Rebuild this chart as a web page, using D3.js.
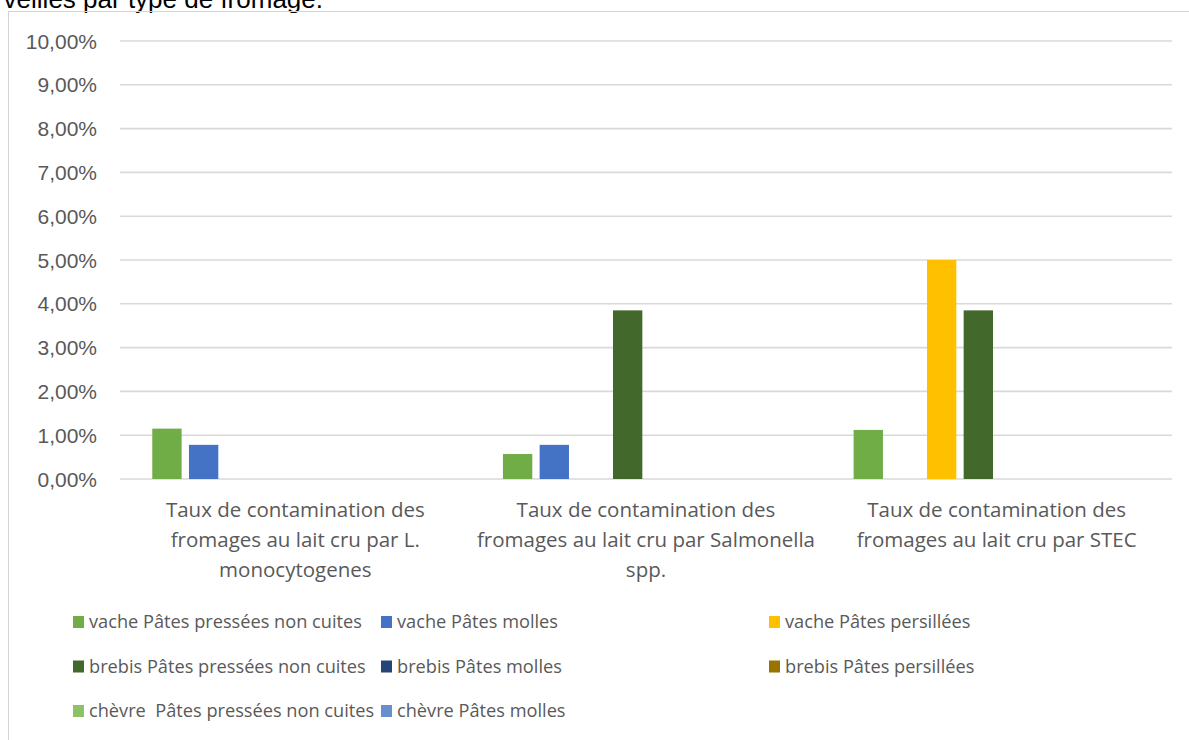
<!DOCTYPE html>
<html>
<head>
<meta charset="utf-8">
<script src="https://cdn.jsdelivr.net/npm/d3@7"></script>
<style>
  html, body { margin: 0; padding: 0; background: #fff; overflow: hidden; }
</style>
</head>
<body>
<div id="chart"></div>
<script>
const width = 1189,
  height = 740;

// categories (x axis labels, already wrapped the way the original shows them)
const categories = [
  ['Taux de contamination des', 'fromages au lait cru par L.', 'monocytogenes'],
  ['Taux de contamination des', 'fromages au lait cru par Salmonella', 'spp.'],
  ['Taux de contamination des', 'fromages au lait cru par STEC']
];

const seriesNames = [
  'vache Pâtes pressées non cuites',
  'vache Pâtes molles',
  'vache Pâtes persillées',
  'brebis Pâtes pressées non cuites',
  'brebis Pâtes molles',
  'brebis Pâtes persillées',
  'chèvre  Pâtes pressées non cuites',
  'chèvre Pâtes molles'
];

const seriesColors = ['#70ad47', '#4472c4', '#ffc000', '#43682b', '#264478', '#997300', '#8cc168', '#698ed0'];

// one value per category, per series (0 = nothing drawn)
const vachePPNC = [0.0115, 0.0057, 0.0112];
const vachePM = [0.0078, 0.0078, 0];
const vachePP = [0, 0, 0.05];
const brebisPPNC = [0, 0.0385, 0.0385];
const brebisPM = [0, 0, 0];
const brebisPP = [0, 0, 0];
const chevrePPNC = [0, 0, 0];
const chevrePM = [0, 0, 0];

const yTicks = [0, 0.01, 0.02, 0.03, 0.04, 0.05, 0.06, 0.07, 0.08, 0.09, 0.10];

const values = [vachePPNC, vachePM, vachePP, brebisPPNC, brebisPM, brebisPP, chevrePPNC, chevrePM];

const svg = d3.select('#chart').append('svg')
  .attr('width', width)
  .attr('height', height);

// title (cut off at the top of the page, as in the original)
svg.append('text')
  .attr('x', 323)
  .attr('y', 8)
  .attr('text-anchor', 'end')
  .style('font-family', '"Liberation Sans", Arial, sans-serif')
  .style('font-size', '26px')
  .style('fill', '#000')
  .text('veilles par type de fromage.');

// chart frame
svg.append('rect')
  .attr('x', 8.5)
  .attr('y', 11.5)
  .attr('width', 1400)
  .attr('height', 900)
  .attr('fill', 'none')
  .attr('stroke', '#d4d4d4')
  .attr('stroke-width', 1);

const plot = { left: 120, right: 1172, top: 41, bottom: 479 };

const locale = d3.formatLocale({ decimal: ',', thousands: ' ', grouping: [3], currency: ['', '€'] });
const pct = locale.format('.2%');

const y = d3.scaleLinear()
  .domain([0, 0.10])
  .range([plot.bottom, plot.top]);

const x0 = d3.scaleBand()
  .domain(d3.range(categories.length))
  .range([plot.left, plot.right])
  .padding(0);

const x1 = d3.scaleBand()
  .domain(d3.range(seriesNames.length))
  .range([0, x0.bandwidth()])
  .paddingInner(0.2)
  .paddingOuter(0.88);

// gridlines
svg.append('g')
  .selectAll('line')
  .data(yTicks)
  .enter().append('line')
    .attr('x1', plot.left)
    .attr('x2', plot.right)
    .attr('y1', (d) => y(d))
    .attr('y2', (d) => y(d))
    .attr('stroke', '#d9d9d9')
    .attr('stroke-width', 1.6);

// y axis labels
svg.append('g')
  .selectAll('text')
  .data(yTicks)
  .enter().append('text')
    .attr('x', 97)
    .attr('y', (d) => y(d))
    .attr('dy', '0.36em')
    .attr('text-anchor', 'end')
    .style('font-family', '"Liberation Sans", Arial, sans-serif')
    .style('font-size', '21px')
    .style('fill', '#595959')
    .text((d) => pct(d));

// bars
const group = svg.append('g')
  .selectAll('g')
  .data(categories)
  .enter().append('g')
    .attr('transform', (d, i) => `translate(${x0(i)},0)`);

group.selectAll('rect')
  .data((d, ci) => values.map((s, si) => ({ si, v: s[ci] })).filter((b) => b.v > 0))
  .enter().append('rect')
    .attr('x', (d) => x1(d.si))
    .attr('width', x1.bandwidth())
    .attr('y', (d) => y(d.v))
    .attr('height', (d) => plot.bottom - y(d.v))
    .attr('fill', (d) => seriesColors[d.si]);

// category labels
group.append('text')
  .attr('text-anchor', 'middle')
  .style('font-family', '"Open Sans", "Noto Sans", sans-serif')
  .style('font-size', '20.5px')
  .style('fill', '#595959')
  .selectAll('tspan')
  .data((d) => d)
  .enter().append('tspan')
    .attr('x', x0.bandwidth() / 2)
    .attr('y', (d, i) => 517 + i * 30)
    .text((d) => d);

// legend
const legendCols = [73, 381, 769],
  legendRowY = 622,
  legendRowStep = 44.5;

const legend = svg.append('g')
  .selectAll('g')
  .data(seriesNames)
  .enter().append('g')
    .attr('transform', (d, i) => `translate(${legendCols[i % 3]},${legendRowY + Math.floor(i / 3) * legendRowStep})`);

legend.append('rect')
  .attr('x', 0)
  .attr('y', -6)
  .attr('width', 11)
  .attr('height', 12)
  .attr('fill', (d, i) => seriesColors[i]);

legend.append('text')
  .attr('x', 16)
  .attr('y', 0)
  .attr('dy', '0.35em')
  .style('font-family', '"Open Sans", "Noto Sans", sans-serif')
  .style('font-size', '18.2px')
  .style('fill', '#595959')
  .style('white-space', 'pre')
  .text((d) => d);
</script>
</body>
</html>
